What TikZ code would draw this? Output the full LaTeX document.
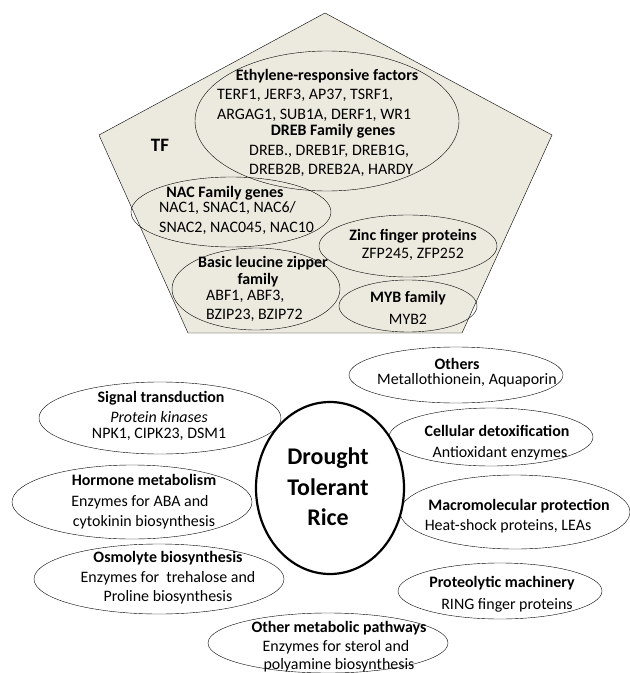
\documentclass[tikz,border=0pt]{standalone}
\usepackage{fontspec}
\setmainfont{Carlito}
\definecolor{tfbeige}{RGB}{236,234,223}
\begin{document}
\begin{tikzpicture}[x=1bp,y=-1bp,
    oval/.style = {draw=black,thin},
    head/.style = {inner sep=0pt,font=\fontsize{16}{18}\selectfont\bfseries},
    gene/.style = {inner sep=0pt,font=\fontsize{16}{18}\selectfont},
    big/.style  = {inner sep=0pt,font=\fontsize{24}{28}\selectfont\bfseries}]
                \useasboundingbox (0,0) rectangle (630,673);

                % transcription factors
                \draw[fill=tfbeige] (325,13) -- (552,135) -- (462,333)
                    -- (188,333) -- (99,135) -- cycle;
                \node[head,font=\fontsize{19}{21}\selectfont\bfseries] (tf) at (160,145) {TF};

                \draw[oval] (327,121) ellipse (132 and 70);
                \node[head] (erf) at (327,76) {Ethylene-responsive factors};
                \node[gene,anchor=west] (erf1) at (217,95) {TERF1, JERF3, AP37, TSRF1,};
                \node[gene,anchor=west] (erf2) at (217,115) {ARGAG1, SUB1A, DERF1, WR1};
                \node[head] (dreb) at (333,131) {DREB Family genes};
                \node[gene,anchor=west] (dreb1) at (249,151) {DREB., DREB1F, DREB1G,};
                \node[gene,anchor=west] (dreb2) at (249,170) {DREB2B, DREB2A, HARDY};

                \draw[oval] (231,212) ellipse (100 and 35);
                \node[head] (nac) at (225,193) {NAC Family genes};
                \node[gene,anchor=west] (nac1) at (159,208) {NAC1, SNAC1, NAC6/};
                \node[gene,anchor=west] (nac2) at (159,228) {SNAC2, NAC045, NAC10};

                \draw[oval] (408,246) ellipse (89 and 31);
                \node[head] (zfp) at (413,236) {Zinc finger proteins};
                \node[gene] (zfp1) at (413,254) {ZFP245, ZFP252};

                \draw[oval] (256,289) ellipse (84 and 41);
                \node[head] (bzip) at (263,263) {Basic leucine zipper};
                \node[head] (bzipb) at (258,280) {family};
                \node[gene,anchor=west] (bzip1) at (206,296) {ABF1, ABF3,};
                \node[gene,anchor=west] (bzip2) at (206,315) {BZIP23, BZIP72};

                \draw[oval] (408,306) ellipse (69 and 26);
                \node[head] (myb) at (408,298) {MYB family};
                \node[gene] (myb1) at (408,319) {MYB2};

                % left side
                \draw[oval] (160,418) ellipse (121 and 36);
                \node[head] (sig) at (161,398) {Signal transduction};
                \node[gene,font=\fontsize{16}{18}\selectfont\itshape] (sig1) at (159,417) {Protein kinases};
                \node[gene] (sig2) at (159,434) {NPK1, CIPK23, DSM1};

                \draw[oval] (132,502) ellipse (120 and 37);
                \node[head] (hor) at (144,480) {Hormone metabolism};
                \node[gene] (hor1) at (140,502) {Enzymes for ABA and};
                \node[gene] (hor2) at (144,522) {cytokinin biosynthesis};

                \draw[oval] (159,579) ellipse (125 and 35);
                \node[head] (osm) at (168,558) {Osmolyte biosynthesis};
                \node[gene] (osm1) at (168,578) {Enzymes for\ \ trehalose and};
                \node[gene] (osm2) at (168,597) {Proline biosynthesis};

                \draw[oval] (328,643) ellipse (120 and 30);
                \node[head] (met) at (339,628) {Other metabolic pathways};
                \node[gene] (met1) at (336,647) {Enzymes for sterol and};
                \node[gene] (met2) at (339,665) {polyamine biosynthesis};

                % right side
                \draw[oval] (456,375) ellipse (107 and 28);
                \node[head] (oth) at (457,364) {Others};
                \node[gene] (oth1) at (467,380) {Metallothionein, Aquaporin};

                \draw[oval] (491,437) ellipse (102 and 29);
                \node[head] (det) at (497,431) {Cellular detoxification};
                \node[gene] (det1) at (500,453) {Antioxidant enzymes};

                \draw[oval] (515,512) ellipse (115 and 37);
                \node[head] (mac) at (519,506) {Macromolecular protection};
                \node[gene] (mac1) at (508,526) {Heat-shock proteins, LEAs};

                \draw[oval] (500,591) ellipse (102 and 28);
                \node[head] (pro) at (502,583) {Proteolytic machinery};
                \node[gene] (pro1) at (507,605) {RING finger proteins};

                % centre
                \draw[line width=2.2bp,fill=white] (330,488) ellipse (74 and 86);
                \node[big] (dro) at (328,458) {Drought};
                \node[big] (tol) at (328,487) {Tolerant};
                \node[big] (ric) at (328,517) {Rice};
            \end{tikzpicture}
\end{document}
